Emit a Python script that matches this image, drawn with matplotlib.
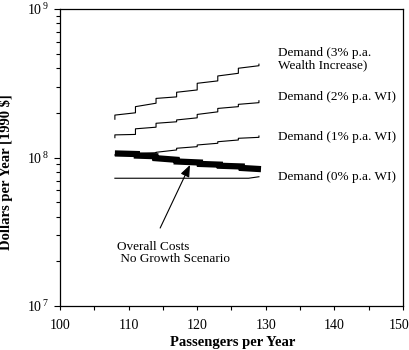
import numpy as np
import matplotlib
matplotlib.use("Agg")
import matplotlib.pyplot as plt
import matplotlib.transforms as mtransforms
from matplotlib.ticker import FixedLocator, FuncFormatter, NullFormatter

plt.rcParams["font.family"] = ["Liberation Serif", "DejaVu Serif"]
plt.rcParams["mathtext.fontset"] = "custom"
plt.rcParams["mathtext.rm"] = "Liberation Serif"

# step positions of the demand curves (passengers per year)
step_x = [108, 111, 114, 117, 120, 123, 126, 129]

# demand curves: value at start / end of each step segment (dollars per year)
d3_start = [1.93e8, 2.20e8, 2.50e8, 2.75e8, 3.16e8, 3.54e8, 3.99e8]
d3_end = [2.00e8, 2.32e8, 2.56e8, 2.85e8, 3.28e8, 3.69e8, 4.15e8]
d3_pre, d3_post = 1.81e8, 4.25e8

d2_start = [1.42e8, 1.56e8, 1.70e8, 1.79e8, 1.95e8, 2.14e8, 2.28e8]
d2_end = [1.43e8, 1.60e8, 1.74e8, 1.85e8, 2.03e8, 2.20e8, 2.34e8]
d2_pre, d2_post = 1.36e8, 2.41e8

d1_start = [1.04e8, 1.065e8, 1.084e8, 1.154e8, 1.214e8, 1.277e8, 1.347e8]
d1_end = [1.05e8, 1.077e8, 1.124e8, 1.183e8, 1.247e8, 1.312e8, 1.367e8]
d1_pre, d1_post = 1.04e8, 1.395e8

d0_x = [108, 127.5, 129]
d0_y = [7.25e7, 7.25e7, 7.42e7]

# overall costs, no growth scenario
cost_x = [108, 111.2, 113.9, 117.0, 120.4, 123.3, 126.5, 129.3]
cost_start = [1.065e8, 1.03e8, 9.9e7, 9.4e7, 9.05e7, 8.8e7, 8.5e7]
cost_end = [1.055e8, 1.02e8, 9.65e7, 9.25e7, 8.95e7, 8.7e7, 8.35e7]


def steps(xs, starts, ends, pre=None, post=None):
    px, py = [], []
    if pre is not None:
        px.append(xs[0]); py.append(pre)
    for i in range(len(starts)):
        px += [xs[i], xs[i + 1]]
        py += [starts[i], ends[i]]
    if post is not None:
        px.append(xs[-1]); py.append(post)
    return px, py


fig = plt.figure(figsize=(4.09, 3.5), dpi=100)
ax = fig.add_axes([0.1467, 0.1257, 0.8386, 0.8486])

lw = 0.8
for st, en, pre, post in [(d3_start, d3_end, d3_pre, d3_post),
                          (d2_start, d2_end, d2_pre, d2_post),
                          (d1_start, d1_end, d1_pre, d1_post)]:
    x, y = steps(step_x, st, en, pre, post)
    ax.plot(x, y, color="black", lw=lw)
ax.plot(d0_x, d0_y, color="black", lw=lw)

cx, cy = steps(cost_x, cost_start, cost_end)
ax.plot(cx, cy, color="black", lw=4.5, solid_joinstyle="miter",
        solid_capstyle="butt", zorder=3)

ax.set_yscale("log")
ax.set_xlim(100, 150)
ax.set_ylim(1e7, 1e9)

ax.xaxis.set_major_locator(FixedLocator([100, 110, 120, 130, 140, 150]))
ax.xaxis.set_minor_locator(FixedLocator([105, 115, 125, 135, 145]))
ax.yaxis.set_major_locator(FixedLocator([1e7, 1e8, 1e9]))
ax.yaxis.set_minor_locator(FixedLocator(
    [m * 10 ** e for e in (7, 8) for m in range(2, 10)]))
ax.yaxis.set_major_formatter(FuncFormatter(
    lambda v, p: r"$\mathdefault{10^{\,%d}}$" % round(np.log10(v))))
ax.yaxis.set_minor_formatter(NullFormatter())

ax.tick_params(axis="x", which="both", direction="out", length=3, width=0.8,
               labelsize=10, pad=6)
ax.tick_params(axis="y", which="major", direction="out", length=4, width=0.8,
               labelsize=10, pad=4)
ax.tick_params(axis="y", which="minor", direction="out", length=3, width=0.8)
for s in ax.spines.values():
    s.set_linewidth(0.9)

# the last x label sits a little left of its tick, as in the original
fig.canvas.draw()
last = ax.get_xticklabels()[-1]
last.set_transform(last.get_transform() +
                   mtransforms.ScaledTranslation(-4 / 100, 0, fig.dpi_scale_trans))

ax.set_xlabel("Passengers per Year", fontsize=10.5, fontweight="bold")
ax.xaxis.set_label_coords(0.503, -0.1)
ax.set_ylabel("Dollars per Year [1990 $]", fontsize=10.5, fontweight="bold")
ax.yaxis.set_label_coords(-0.137, 0.451)

fs = 9.5
ax.text(131.8, 4.6e8, "Demand (3% p.a.\nWealth Increase)", fontsize=fs,
        va="center", ha="left", linespacing=1.0)
ax.text(131.8, 2.55e8, "Demand (2% p.a. WI)", fontsize=fs, va="center")
ax.text(131.8, 1.37e8, "Demand (1% p.a. WI)", fontsize=fs, va="center")
ax.text(131.8, 7.4e7, "Demand (0% p.a. WI)", fontsize=fs, va="center")

ax.annotate("", xy=(118.95, 8.9e7), xytext=(114.6, 3.35e7),
            arrowprops=dict(arrowstyle="-|>,head_length=0.5,head_width=0.2",
                            color="black", lw=0.8,
                            mutation_scale=14, shrinkA=0, shrinkB=0),
            zorder=4)
ax.text(108.3, 2.26e7, "Overall Costs\n No Growth Scenario", fontsize=fs,
        va="center", ha="left", linespacing=1.0)

fig.savefig("out.png", dpi=100)
